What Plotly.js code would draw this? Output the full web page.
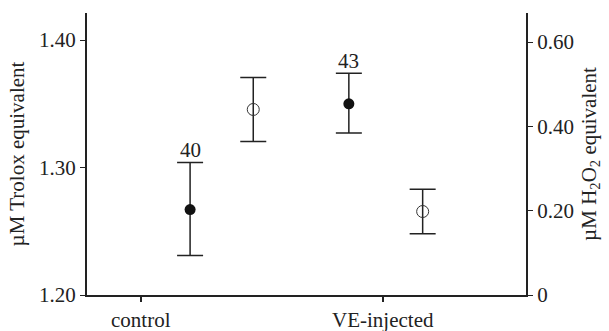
<!DOCTYPE html>
<html><head><meta charset="utf-8">
<script src="https://cdn.plot.ly/plotly-3.0.1.min.js"></script>
<style>html,body{margin:0;padding:0;background:#fff}#chart{width:609px;height:331px}</style>
</head><body><div id="chart"></div>
<script>
const categories = ["control", "VE-injected"];
const categoryPos = [0, 1];
// Trolox (filled, left axis)
const troloxX = [0.204, 0.86];
const troloxMean = [1.267, 1.350];
const troloxUpper = [1.304, 1.374];
const troloxLower = [1.231, 1.327];
const sampleN = ["40", "43"];
// H2O2 (open, right axis)
const h2o2X = [0.465, 1.165];
const h2o2Mean = [0.440, 0.198];
const h2o2Upper = [0.516, 0.251];
const h2o2Lower = [0.364, 0.145];
const leftTicks = [1.20, 1.30, 1.40];
const leftTickText = ["1.20", "1.30", "1.40"];
const rightTicks = [0, 0.20, 0.40, 0.60];
const rightTickText = ["0", "0.20", "0.40", "0.60"];

const ink = "#222";
const font = {family: "Times New Roman, serif", size: 21, color: ink};

const traces = [
  {
    x: troloxX, y: troloxMean, type: "scatter", mode: "markers", yaxis: "y",
    marker: {size: 11, color: "#111", symbol: "circle"},
    error_y: {type: "data", symmetric: false,
      array: troloxUpper.map((v, i) => v - troloxMean[i]),
      arrayminus: troloxMean.map((v, i) => v - troloxLower[i]),
      color: ink, thickness: 1.5, width: 13},
    showlegend: false, hoverinfo: "skip"
  },
  {
    x: h2o2X, y: h2o2Mean, type: "scatter", mode: "markers", yaxis: "y2",
    marker: {size: 12, color: "#333", symbol: "circle-open", line: {width: 1}},
    error_y: {type: "data", symmetric: false,
      array: h2o2Upper.map((v, i) => v - h2o2Mean[i]),
      arrayminus: h2o2Mean.map((v, i) => v - h2o2Lower[i]),
      color: ink, thickness: 1.5, width: 13},
    showlegend: false, hoverinfo: "skip"
  }
];

const annotations = sampleN.map((t, i) => ({
  x: troloxX[i], y: troloxUpper[i], xref: "x", yref: "y",
  text: t, showarrow: false, yanchor: "bottom", yshift: -2,
  font: font
}));

const layout = {
  width: 609, height: 331,
  margin: {l: 87, r: 83, t: 13, b: 36},
  paper_bgcolor: "#fff", plot_bgcolor: "#fff",
  font: font,
  showlegend: false,
  xaxis: {
    range: [-0.222, 1.592], tickvals: categoryPos, ticktext: categories,
    showgrid: false, zeroline: false, showline: true, linecolor: ink, linewidth: 2,
    ticks: "outside", ticklen: 5, tickwidth: 2, tickcolor: ink, tickfont: font, fixedrange: true
  },
  yaxis: {
    range: [1.2, 1.4212], tickvals: leftTicks, ticktext: leftTickText,
    showgrid: false, zeroline: false, showline: true, linecolor: ink, linewidth: 2,
    ticks: "outside", ticklen: 5, tickwidth: 1, tickcolor: ink, tickfont: font,
    title: {text: "µM Trolox equivalent", font: font, standoff: 9}
  },
  yaxis2: {
    range: [0, 0.6688], tickvals: rightTicks, ticktext: rightTickText,
    overlaying: "y", side: "right",
    showgrid: false, zeroline: false, showline: true, linecolor: ink, linewidth: 2,
    ticks: "outside", ticklen: 5, tickwidth: 1, tickcolor: ink, tickfont: font,
    title: {text: "µM H<sub>2</sub>O<sub>2</sub> equivalent", font: font, standoff: 8}
  },
  annotations: annotations
};

Plotly.newPlot("chart", traces, layout, {displayModeBar: false, staticPlot: true});
</script></body></html>
